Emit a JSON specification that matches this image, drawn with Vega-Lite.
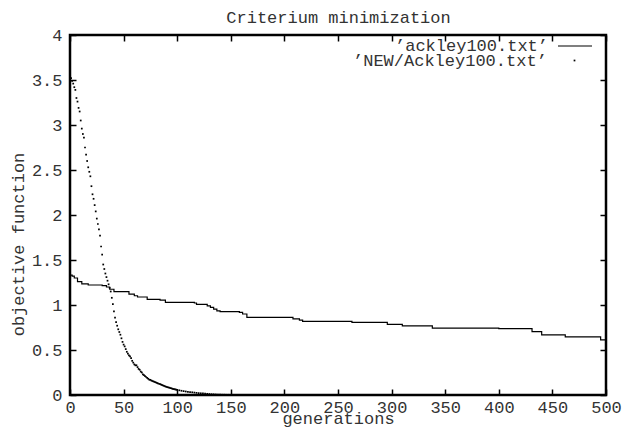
{
  "$schema": "https://vega.github.io/schema/vega-lite/v6.json",
  "width": 536,
  "height": 360,
  "autosize": "none",
  "padding": {"left": 70, "top": 35, "right": 22, "bottom": 44},
  "background": "white",
  "config": {
    "view": {"stroke": "#000", "strokeWidth": 2.5},
    "axis": {"labelFont": "Liberation Mono", "labelFontSize": 17, "labelColor": "#333", "titleFont": "Liberation Mono", "titleFontSize": 17, "titleFontWeight": "normal", "titleColor": "#333", "grid": false, "domain": false, "tickColor": "#000", "tickWidth": 1.5, "tickSize": -6},
    "legend": {"labelFont": "Liberation Mono", "labelFontSize": 17, "labelColor": "#333", "labelLimit": 400, "padding": 0, "title": null}
  },
  "datasets": {
    "line": [{"g":0,"v":1.333},{"g":2,"v":1.32},{"g":4,"v":1.3},{"g":7,"v":1.26},{"g":11,"v":1.235},{"g":17,"v":1.222},{"g":30,"v":1.215},{"g":34,"v":1.2},{"g":37,"v":1.175},{"g":41,"v":1.148},{"g":55,"v":1.12},{"g":60,"v":1.103},{"g":63,"v":1.089},{"g":72,"v":1.063},{"g":84,"v":1.055},{"g":89,"v":1.03},{"g":116,"v":1.022},{"g":118,"v":1.007},{"g":128,"v":0.99},{"g":131,"v":0.974},{"g":134,"v":0.955},{"g":137,"v":0.935},{"g":140,"v":0.926},{"g":158,"v":0.918},{"g":161,"v":0.9},{"g":165,"v":0.863},{"g":208,"v":0.845},{"g":214,"v":0.833},{"g":217,"v":0.818},{"g":263,"v":0.807},{"g":296,"v":0.785},{"g":310,"v":0.767},{"g":338,"v":0.744},{"g":400,"v":0.737},{"g":431,"v":0.705},{"g":440,"v":0.668},{"g":462,"v":0.645},{"g":495,"v":0.612},{"g":500,"v":0.612}],
    "dots": [{"g":0,"v":3.54},{"g":1,"v":3.52},{"g":2,"v":3.49},{"g":3,"v":3.46},{"g":4,"v":3.42},{"g":5,"v":3.39},{"g":6,"v":3.3},{"g":7,"v":3.26},{"g":8,"v":3.19},{"g":9,"v":3.15},{"g":10,"v":3.05},{"g":11,"v":2.96},{"g":12,"v":2.9},{"g":13,"v":2.86},{"g":14,"v":2.75},{"g":15,"v":2.67},{"g":16,"v":2.6},{"g":17,"v":2.53},{"g":18,"v":2.48},{"g":19,"v":2.43},{"g":20,"v":2.32},{"g":21,"v":2.23},{"g":22,"v":2.18},{"g":23,"v":2.11},{"g":24,"v":2.04},{"g":25,"v":1.96},{"g":26,"v":1.9},{"g":27,"v":1.84},{"g":28,"v":1.77},{"g":29,"v":1.65},{"g":30,"v":1.56},{"g":31,"v":1.45},{"g":32,"v":1.4},{"g":33,"v":1.35},{"g":34,"v":1.31},{"g":35,"v":1.27},{"g":36,"v":1.23},{"g":37,"v":1.19},{"g":38,"v":1.15},{"g":39,"v":1.08},{"g":40,"v":1.01},{"g":41,"v":0.93},{"g":42,"v":0.86},{"g":43,"v":0.81},{"g":44,"v":0.77},{"g":45,"v":0.73},{"g":46,"v":0.7},{"g":47,"v":0.67},{"g":48,"v":0.63},{"g":49,"v":0.59},{"g":50,"v":0.56},{"g":51,"v":0.54},{"g":52,"v":0.51},{"g":53,"v":0.48},{"g":54,"v":0.46},{"g":55,"v":0.44},{"g":56,"v":0.43},{"g":57,"v":0.41},{"g":58,"v":0.38},{"g":59,"v":0.36},{"g":60,"v":0.34},{"g":61,"v":0.33},{"g":62,"v":0.33},{"g":63,"v":0.31},{"g":64,"v":0.29},{"g":65,"v":0.28},{"g":66,"v":0.26},{"g":67,"v":0.25},{"g":68,"v":0.23},{"g":69,"v":0.22},{"g":70,"v":0.21},{"g":71,"v":0.2},{"g":72,"v":0.19},{"g":73,"v":0.18},{"g":74,"v":0.17},{"g":75,"v":0.168},{"g":76,"v":0.16},{"g":77,"v":0.155},{"g":78,"v":0.15},{"g":79,"v":0.145},{"g":80,"v":0.14},{"g":81,"v":0.135},{"g":82,"v":0.13},{"g":83,"v":0.125},{"g":84,"v":0.12},{"g":85,"v":0.115},{"g":86,"v":0.11},{"g":87,"v":0.105},{"g":88,"v":0.1},{"g":89,"v":0.095},{"g":90,"v":0.09},{"g":91,"v":0.087},{"g":92,"v":0.083},{"g":93,"v":0.08},{"g":94,"v":0.076},{"g":95,"v":0.072},{"g":96,"v":0.069},{"g":97,"v":0.066},{"g":98,"v":0.063},{"g":99,"v":0.06},{"g":100,"v":0.057},{"g":102,"v":0.052},{"g":104,"v":0.047},{"g":106,"v":0.043},{"g":108,"v":0.039},{"g":110,"v":0.036},{"g":112,"v":0.033},{"g":114,"v":0.03},{"g":116,"v":0.027},{"g":118,"v":0.024},{"g":120,"v":0.021},{"g":122,"v":0.019},{"g":124,"v":0.017},{"g":126,"v":0.015},{"g":128,"v":0.013},{"g":130,"v":0.011},{"g":132,"v":0.009},{"g":134,"v":0.008},{"g":136,"v":0.006},{"g":138,"v":0.005},{"g":140,"v":0.004},{"g":142,"v":0.003},{"g":144,"v":0.003},{"g":146,"v":0.002},{"g":148,"v":0.002},{"g":150,"v":0.001}]
  },
  "resolve": {"axis": {"x": "independent", "y": "independent"}},
  "layer": [
    {
      "data": {"name": "line"},
      "mark": {"type": "line", "interpolate": "step-after", "strokeWidth": 1.2},
      "encoding": {
        "x": {"field": "g", "type": "quantitative", "scale": {"domain": [0, 500], "nice": false, "zero": false},
              "axis": {"orient": "bottom", "values": [0,50,100,150,200,250,300,350,400,450,500], "labelPadding": 10.5, "labelDx": 5, "labelFlush": false, "title": "generations", "titleY": 28, "titleBaseline": "alphabetic"}},
        "y": {"field": "v", "type": "quantitative", "scale": {"domain": [0, 4], "nice": false, "zero": false},
              "axis": {"orient": "left", "values": [0,0.5,1,1.5,2,2.5,3,3.5,4], "format": "~g", "labelPadding": 14, "labelFlush": false, "title": "objective function", "titleX": -46.5, "titleY": 209, "titleBaseline": "alphabetic", "titleAlign": "center", "titleAngle": -90}},
        "color": {"datum": "’ackley100.txt’", "type": "nominal",
                  "scale": {"range": ["#000"]},
                  "legend": {"orient": "none", "legendX": 325, "legendY": -7,
                             "symbolType": "stroke", "symbolSize": 1156, "symbolStrokeWidth": 1.2,
                             "labelOffset": -198, "symbolOffset": 162}}
      }
    },
    {
      "data": {"name": "dots"},
      "mark": {"type": "point", "shape": "square", "filled": true, "size": 3, "opacity": 1, "color": "#000"},
      "encoding": {
        "x": {"field": "g", "type": "quantitative", "axis": {"orient": "top", "values": [0,50,100,150,200,250,300,350,400,450,500], "labels": false, "title": "Criterium minimization", "titleY": -13, "titleBaseline": "alphabetic"}},
        "y": {"field": "v", "type": "quantitative", "axis": {"orient": "right", "values": [0,0.5,1,1.5,2,2.5,3,3.5,4], "labels": false, "title": null}},
        "shape": {"datum": "’NEW/Ackley100.txt’", "type": "nominal",
                  "scale": {"range": ["square"]},
                  "legend": {"orient": "none", "legendX": 284, "legendY": 17,
                             "symbolSize": 3, "symbolStrokeWidth": 0, "symbolFillColor": "#000", "symbolOpacity": 1,
                             "labelOffset": -230, "symbolOffset": 212}}
      }
    }
  ]
}
